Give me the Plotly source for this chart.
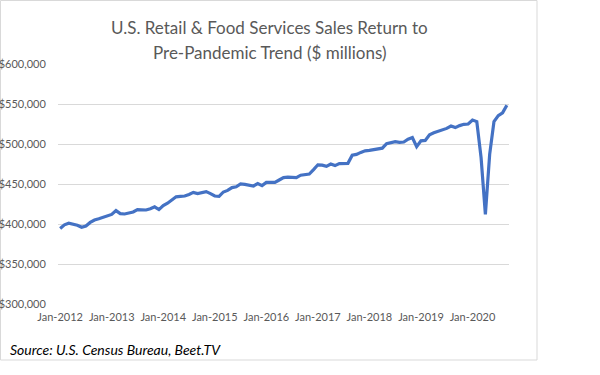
import pandas as pd
import plotly.graph_objects as go

# Monthly U.S. retail & food services sales ($ millions), Jan-2012 .. Sep-2020
sales = [
    394500, 399000, 401000, 400000, 398500, 396000, 397500, 402000, 405000, 406500, 408000, 409500,  # 2012
    412000, 416700, 413000, 412500, 414000, 415000, 418000, 417500, 417500, 419000, 421500, 418000,  # 2013
    423000, 426000, 430000, 434000, 434500, 435000, 437000, 439500, 438000, 439500, 440500, 438000,  # 2014
    435000, 434500, 440000, 442000, 445500, 446500, 450000, 449500, 448500, 447500, 450500, 448000,  # 2015
    452000, 451500, 452000, 455000, 458000, 458500, 458500, 458000, 461000, 462000, 462500, 468000,  # 2016
    474000, 473500, 472000, 475000, 473000, 475500, 476000, 475800, 486000, 487000, 489500, 491500,  # 2017
    492000, 493000, 494500, 494800, 500500, 501500, 503000, 502000, 502500, 506000, 508000, 496700,  # 2018
    504000, 504500, 511500, 514000, 516000, 517000, 519500, 522500, 520500, 523000, 524600, 525000,  # 2019
    530000, 528000, 483000, 412000, 487000, 528000, 535500, 539000, 548500,                          # 2020
]
months = [d.strftime("%Y-%m") for d in pd.date_range("2012-01-01", periods=len(sales), freq="MS")]
tick_months = [m for m in months if m.endswith("-01")]
tick_labels = ["Jan-" + m[:4] for m in tick_months]
y_ticks = [300000, 350000, 400000, 450000, 500000, 550000, 600000]
y_labels = ["${:,}".format(v) for v in y_ticks]

title_lines = ["U.S. Retail & Food Services Sales Return to", "Pre-Pandemic Trend ($ millions)"]
source_text = "Source: U.S. Census Bureau, Beet.TV"

FONT = "Lato"
GREY = "#595959"

# plot area in pixels: x 58..509, y 64..304
L, R, T, B = 58, 509, 64, 304
W, H = 600, 375
def px_to_u(x):
    return (x - L) / (R - L)
def py_to_v(y):
    return (B - y) / (B - T)

fig = go.Figure()
fig.add_trace(go.Scatter(
    x=months, y=sales, mode="lines",
    line=dict(color="#4472C4", width=3.2),
    hoverinfo="skip", showlegend=False,
))

fig.update_layout(
    width=W, height=H,
    margin=dict(l=L, r=W - R, t=T, b=H - B, pad=0, autoexpand=False),
    paper_bgcolor="white", plot_bgcolor="white",
    font=dict(family=FONT, color=GREY, size=11),
    hovermode=False,
    xaxis=dict(
        type="category", categoryorder="array", categoryarray=months,
        range=[-0.5, len(months) - 0.5], automargin=False,
        tickmode="array", tickvals=tick_months, ticktext=tick_labels,
        showgrid=False, zeroline=False, showline=False,
        ticks="outside", ticklen=3, tickcolor="rgba(0,0,0,0)",
        tickfont=dict(family=FONT, size=11, color=GREY),
    ),
    yaxis=dict(
        range=[300000, 600000], automargin=False,
        tickmode="array", tickvals=y_ticks, ticktext=y_labels,
        showgrid=True, gridcolor="#D9D9D9", gridwidth=1,
        zeroline=False, showline=False,
        ticks="outside", ticklen=9, tickcolor="rgba(0,0,0,0)",
        tickfont=dict(family=FONT, size=11, color=GREY),
    ),
    shapes=[dict(
        type="rect", xref="paper", yref="paper",
        x0=px_to_u(0.5), x1=px_to_u(537), y0=py_to_v(360), y1=py_to_v(0.5),
        line=dict(color="#D9D9D9", width=1), fillcolor="rgba(0,0,0,0)", layer="below",
    )],
    annotations=[
        dict(text=title_lines[0], xref="paper", yref="paper", x=px_to_u(269), y=py_to_v(27),
             xanchor="center", yanchor="middle", showarrow=False,
             font=dict(family=FONT, size=17, color=GREY)),
        dict(text=title_lines[1], xref="paper", yref="paper", x=px_to_u(269), y=py_to_v(53),
             xanchor="center", yanchor="middle", showarrow=False,
             font=dict(family=FONT, size=17, color=GREY)),
        dict(text="<i>" + source_text + "</i>", xref="paper", yref="paper", x=px_to_u(8), y=py_to_v(349),
             xanchor="left", yanchor="middle", showarrow=False,
             font=dict(family=FONT, size=14, color="black")),
    ],
)

fig.write_html("out.html", config={"displayModeBar": False},
               post_script="document.body.style.margin='0';")
